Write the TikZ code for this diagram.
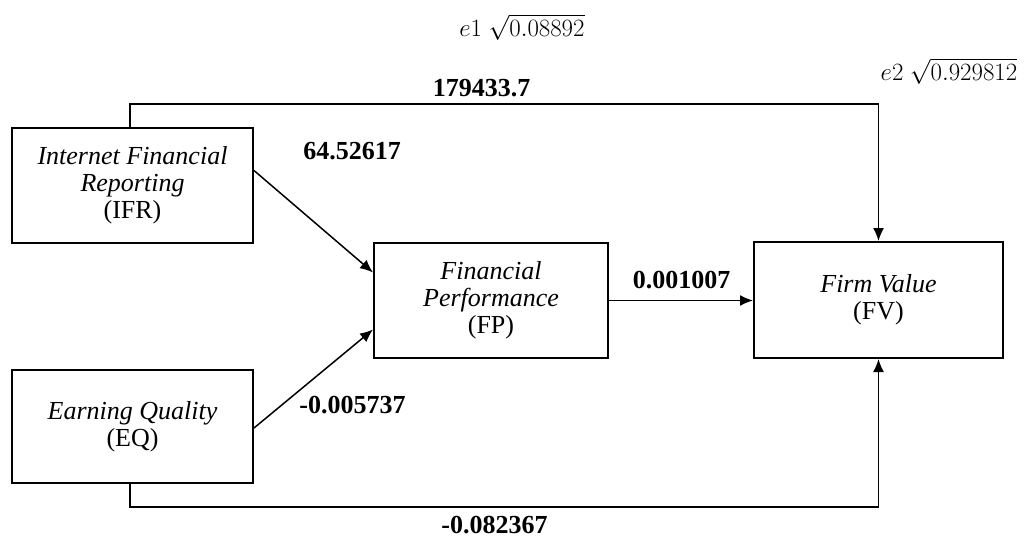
\documentclass[tikz,border=0pt]{standalone}
\usepackage{fontspec}
\setmainfont{Liberation Serif}
\usetikzlibrary{arrows.meta}
\begin{document}
\begin{tikzpicture}[x=1pt,y=-1pt,
  box/.style={draw,line width=2pt,align=center,inner sep=0pt,font=\fontsize{26}{27}\selectfont},
  conn/.style={line width=1.5pt},
  arr/.style={conn,-{Latex[length=13pt,width=11pt]}},
  lbl/.style={font=\fontsize{26}{28}\selectfont\bfseries,inner sep=0pt},
  err/.style={font=\fontsize{26}{28}\selectfont,inner sep=0pt}]
\fill[white] (0,0) rectangle (1026,538);
\useasboundingbox (0,0) rectangle (1026,538);
\node[box,minimum width=241pt,minimum height=115pt] (ifr) at (132.5,185.5) {\textit{Internet Financial}\\\textit{Reporting}\\(IFR)};
\node[box,minimum width=241pt,minimum height=113pt] (eq) at (132.5,426.5) {\textit{Earning Quality}\\(EQ)};
\node[box,minimum width=234pt,minimum height=115pt] (fp) at (491,300.5) {\textit{Financial}\\\textit{Performance}\\(FP)};
\node[box,minimum width=249pt,minimum height=116pt] (fv) at (878.5,300) {\textit{Firm Value}\\(FV)};
\draw[arr] ([xshift=-2.5pt]ifr.north) -- ++(0,-23) -| (fv.north);
\draw[arr] ([xshift=-2.5pt]eq.south) -- ++(0,23) -| (fv.south);
\draw[arr] ([yshift=15pt]ifr.east) -- ([yshift=28pt]fp.west);
\draw[arr] ([yshift=-1.5pt]eq.east) -- ([yshift=-29pt]fp.west);
\draw[arr] (fp.east) -- (fv.west |- fp.east);
\node[lbl] (l1) at (481.5,88) {179433.7};
\node[lbl] (l2) at (352,151) {64.52617};
\node[lbl] (l3) at (681.5,280) {0.001007};
\node[lbl] (l4) at (352.5,405) {-0.005737};
\node[lbl] (l5) at (494.5,525) {-0.082367};
\node[err] (e1) at (522,27) {$e1\ \sqrt{0.08892}$};
\node[err] (e2) at (949,71) {$e2\ \sqrt{0.929812}$};
\end{tikzpicture}
\end{document}
